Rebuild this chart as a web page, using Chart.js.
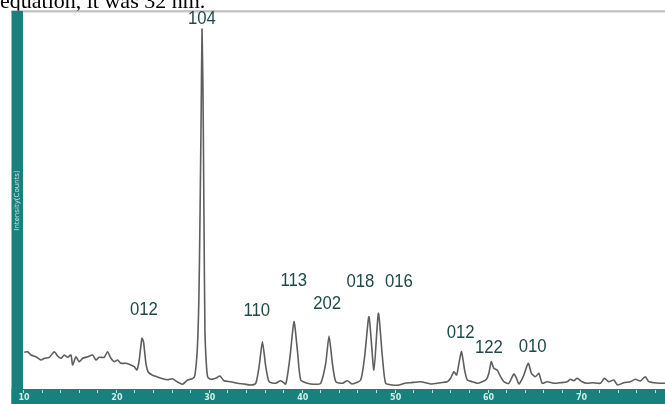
<!DOCTYPE html>
<html>
<head>
<meta charset="utf-8">
<style>
  html, body { margin: 0; padding: 0; background: #ffffff; }
  #wrap { position: relative; width: 665px; height: 404px; overflow: hidden; }
  canvas { position: absolute; left: 0; top: 0; }
</style>
<script src="https://cdn.jsdelivr.net/npm/chart.js@4.4.1/dist/chart.umd.min.js"></script>
</head>
<body>
<div id="wrap"><canvas id="xrd" width="665" height="404"></canvas></div>
<script>
// Diffraction angle (2θ, degrees)
const twoTheta = [
  10.14, 10.50, 10.86, 11.40, 11.94, 12.30, 12.83, 13.37, 13.73, 14.09,
  14.44, 14.80, 15.16, 15.34, 15.70, 16.05, 16.42, 16.96, 17.49, 17.85,
  18.20, 18.74, 19.10, 19.46, 19.82, 20.18, 20.54, 21.08, 21.61, 21.97,
  22.26, 22.51, 22.80, 22.97, 23.23, 23.48, 23.94, 24.48, 25.02, 25.56,
  26.10, 26.63, 27.17, 27.71, 28.25, 28.50, 28.76, 28.93, 29.05, 29.18,
  29.27, 29.38, 29.48, 29.58, 29.72, 29.88, 30.20, 30.74, 31.20, 31.63,
  32.37, 33.08, 33.80, 34.52, 35.05, 35.41, 35.77, 36.13, 36.49, 37.20,
  37.74, 38.28, 38.74, 39.17, 39.53, 39.89, 40.61, 41.32, 42.04, 42.58,
  42.94, 43.30, 43.66, 44.38, 44.91, 45.45, 46.34, 46.77, 47.24, 47.77,
  48.25, 48.68, 49.03, 49.75, 50.47, 51.10, 51.72, 52.80, 53.87, 54.95,
  55.67, 56.02, 56.38, 56.67, 56.92, 57.20, 57.53, 57.82, 58.35, 58.89,
  59.43, 59.89, 60.14, 60.40, 60.68, 61.04, 61.40, 61.75, 62.29, 62.83,
  63.12, 63.37, 63.84, 64.38, 64.73, 65.16, 65.52, 65.88, 66.42, 67.13,
  67.85, 68.57, 68.92, 69.28, 69.64, 70.18, 70.72, 71.26, 72.15, 72.58,
  73.05, 73.58, 74.01, 74.66, 75.38, 75.91, 76.45, 76.99, 77.35, 77.89,
  78.60, 79.10
];

// Intensity (counts, arbitrary units)
const counts = [
  36.7, 37.3, 34.0, 32.3, 29.0, 30.7, 31.7, 37.3, 33.0, 30.7,
  34.0, 31.7, 34.0, 24.0, 32.3, 27.3, 30.7, 32.3, 34.0, 29.0,
  31.7, 31.7, 37.3, 30.7, 27.3, 29.0, 25.7, 25.7, 24.0, 22.3,
  19.0, 29.0, 50.7, 47.3, 25.7, 17.0, 13.7, 12.0, 10.3, 9.3,
  10.3, 7.0, 4.7, 9.0, 10.3, 13.7, 40.0, 90.0, 170.0, 280.0,
  360.0, 290.0, 170.0, 60.0, 27.0, 12.0, 9.7, 10.7, 13.0, 8.3,
  7.3, 5.7, 5.0, 4.0, 5.7, 22.3, 47.3, 22.3, 7.3, 5.7,
  8.3, 5.0, 32.3, 67.3, 39.0, 9.0, 5.7, 4.7, 5.7, 25.7,
  53.0, 25.7, 7.3, 5.7, 8.3, 5.0, 9.0, 32.3, 72.3, 19.0,
  75.7, 32.3, 5.7, 4.0, 4.0, 5.7, 6.3, 7.3, 5.0, 6.3,
  7.3, 10.7, 17.3, 14.0, 25.7, 37.3, 19.0, 9.0, 7.3, 5.7,
  7.3, 9.7, 15.7, 27.3, 20.7, 19.0, 12.3, 7.3, 5.7, 15.0,
  10.7, 5.0, 12.3, 25.7, 15.7, 12.3, 15.7, 5.7, 7.3, 5.7,
  6.3, 7.3, 9.7, 8.3, 10.7, 7.3, 5.7, 6.3, 5.7, 10.7,
  7.3, 9.0, 4.0, 6.3, 7.3, 9.7, 8.0, 12.3, 7.3, 6.3,
  5.7, 5.7
];

// Axis tick labels along 2θ
const tickValues = [10, 20, 30, 40, 50, 60, 70];
const minorStep = 2;

// Miller-index annotations and where they sit (2θ, counts)
const peakLabels  = ['012', '104', '110', '113', '202', '018', '016', '012', '122', '010'];
const labelTheta  = [23.01, 29.25, 35.16, 39.14, 42.74, 46.31, 50.46, 57.10, 60.14, 64.86];
const labelCounts = [78.5, 369.5, 78.0, 107.5, 85.0, 107.3, 107.3, 55.5, 41.0, 41.5];

const captionText = 'equation, it was 32 nm.';
const yTitle = 'Intensity(Counts)';

const TEAL = '#16817d';

const framePlugin = {
  id: 'frame',
  beforeDraw(chart) {
    const { ctx, chartArea: a, width } = chart;
    ctx.save();
    ctx.fillStyle = '#ffffff';
    ctx.fillRect(0, 0, width, chart.height);
    // caption line of surrounding text
    ctx.fillStyle = '#000000';
    ctx.font = '22px "Liberation Serif", "Times New Roman", serif';
    ctx.textBaseline = 'alphabetic';
    ctx.textAlign = 'left';
    ctx.fillText(captionText, 0, 8);
    // top border
    ctx.fillStyle = '#9a9a9a';
    ctx.fillRect(a.left - 12, a.top - 1.5, width, 1.2);
    ctx.fillStyle = '#d6d6d6';
    ctx.fillRect(a.left - 12, a.top - 0.3, width, 1);
    ctx.restore();
  },
  afterDraw(chart) {
    const { ctx, chartArea: a, width, height, scales } = chart;
    const xs = scales.x, ys = scales.y;
    ctx.save();
    // teal axis bands
    ctx.fillStyle = TEAL;
    ctx.fillRect(a.left - 11.5, a.top - 1, 11.5, height - a.top + 1);
    ctx.fillRect(a.left - 11.5, a.bottom, width, height - a.bottom);

    // minor tick marks
    ctx.strokeStyle = 'rgba(225,245,240,0.85)';
    ctx.lineWidth = 1;
    for (let v = xs.min; v <= xs.max; v += minorStep) {
      const px = Math.round(xs.getPixelForValue(v)) + 0.5;
      ctx.beginPath();
      ctx.moveTo(px, a.bottom + 1);
      ctx.lineTo(px, a.bottom + 4);
      ctx.stroke();
    }
    // tick labels
    ctx.fillStyle = '#d4ece6';
    ctx.font = 'bold 8px "DejaVu Sans", sans-serif';
    ctx.textAlign = 'center';
    ctx.textBaseline = 'middle';
    tickValues.forEach(v => {
      ctx.fillText(String(v), xs.getPixelForValue(v) + 1, a.bottom + 8.5);
    });

    // y axis title inside the left band
    ctx.save();
    ctx.translate(a.left - 6, (a.top + a.bottom) / 2 + 0);
    ctx.rotate(-Math.PI / 2);
    ctx.font = '7px "DejaVu Sans", sans-serif';
    ctx.fillStyle = '#cfe6e2';
    ctx.textAlign = 'center';
    ctx.textBaseline = 'middle';
    ctx.fillText(yTitle, 0, 0);
    ctx.restore();

    // peak annotations
    ctx.fillStyle = '#1f4848';
    ctx.font = '18px "Liberation Sans", Arial, sans-serif';
    ctx.textAlign = 'center';
    ctx.textBaseline = 'middle';
    peakLabels.forEach((t, i) => {
      const px = xs.getPixelForValue(labelTheta[i]);
      const py = ys.getPixelForValue(labelCounts[i]);
      ctx.save();
      ctx.translate(px, py);
      ctx.scale(0.93, 1);
      ctx.fillText(t, 0, 0);
      ctx.restore();
    });
    ctx.restore();
  }
};

new Chart(document.getElementById('xrd'), {
  type: 'scatter',
  data: {
    datasets: [{
      data: twoTheta.map((t, i) => ({ x: t, y: counts[i] })),
      showLine: true,
      borderColor: '#5e5e5e',
      borderWidth: 1.6,
      pointRadius: 0,
      tension: 0.2,
      fill: false
    }]
  },
  options: {
    responsive: false,
    animation: false,
    events: [],
    layout: { padding: { left: 23, top: 12, right: 0, bottom: 15 } },
    plugins: { legend: { display: false }, tooltip: { enabled: false } },
    scales: {
      x: { type: 'linear', min: 10, max: 79.1, display: false },
      y: { type: 'linear', min: 0, max: 377, display: false }
    }
  },
  plugins: [framePlugin]
});
</script>
</body>
</html>
